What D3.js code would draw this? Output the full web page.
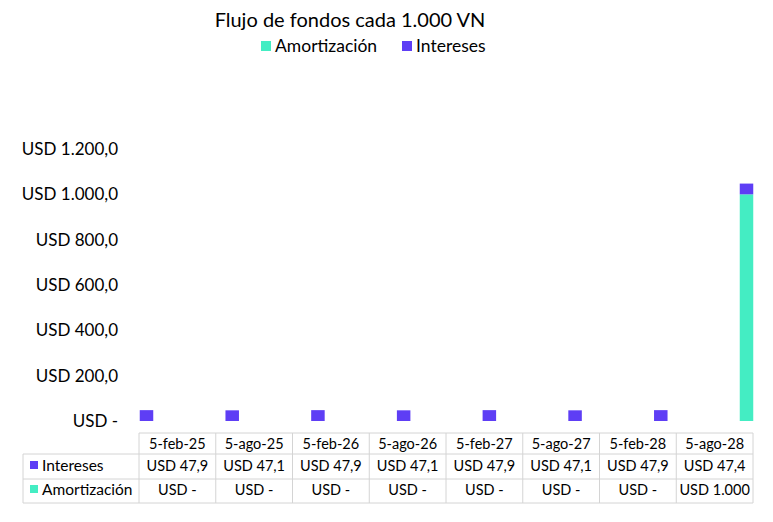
<!DOCTYPE html>
<html><head><meta charset="utf-8">
<script src="https://cdn.jsdelivr.net/npm/d3@7"></script>
<style>body{margin:0;background:#fff}svg{display:block;font-family:Lato,"Open Sans",sans-serif}</style>
</head><body><svg id="c" width="773" height="522"></svg>
<script>
const categories = ["5-feb-25","5-ago-25","5-feb-26","5-ago-26","5-feb-27","5-ago-27","5-feb-28","5-ago-28"];
const intereses = [47.9,47.1,47.9,47.1,47.9,47.1,47.9,47.4];
const amortizacion = [0,0,0,0,0,0,0,1000];
const interesesLabels = ["USD 47,9","USD 47,1","USD 47,9","USD 47,1","USD 47,9","USD 47,1","USD 47,9","USD 47,4"];
const amortLabels = ["USD -","USD -","USD -","USD -","USD -","USD -","USD -","USD 1.000"];
const yTicks = [0,200,400,600,800,1000,1200];
const colors = {amort:"#44EDC3", int:"#5E3EF5"};

const svg = d3.select("#c");
const y = d3.scaleLinear().domain([0,1200]).range([421,149]);
const x = d3.scalePoint().domain(categories).range([146.5,746.5]);
const bw = 13.5;

// title
svg.append("text").attr("x",350).attr("y",27).attr("text-anchor","middle")
  .attr("font-size",20).attr("fill","#000").text("Flujo de fondos cada 1.000 VN");
// legend
const leg = [{n:"Amortización",c:colors.amort,x:261},{n:"Intereses",c:colors.int,x:402}];
leg.forEach(l=>{
  svg.append("rect").attr("x",l.x).attr("y",41).attr("width",10).attr("height",10).attr("fill",l.c);
  svg.append("text").attr("x",l.x+14).attr("y",52).attr("font-size",17.5).attr("fill","#000").text(l.n);
});

// y axis
const fmt = v => v===0 ? "USD -" : "USD " + d3.format(",.1f")(v).replace(/,/g,"#").replace(".",",").replace(/#/g,".");
const yAxis = d3.axisLeft(y).tickValues(yTicks).tickFormat(fmt).tickSize(0).tickPadding(0);
const ga = svg.append("g").attr("transform","translate(118,0)").call(yAxis);
ga.select(".domain").remove();
ga.selectAll("text").attr("font-size",17).attr("font-family","Lato,'Open Sans',sans-serif").attr("fill","#000");

// bars
const g = svg.append("g");
g.selectAll(".am").data(categories).join("rect")
  .attr("x",d=>x(d)-bw/2).attr("width",bw)
  .attr("y",(d,i)=>y(amortizacion[i])).attr("height",(d,i)=>y(0)-y(amortizacion[i]))
  .attr("fill",colors.amort);
g.selectAll(".in").data(categories).join("rect")
  .attr("x",d=>x(d)-bw/2).attr("width",bw)
  .attr("y",(d,i)=>y(amortizacion[i]+intereses[i])).attr("height",(d,i)=>y(amortizacion[i])-y(amortizacion[i]+intereses[i]))
  .attr("fill",colors.int);

// table
const colX = d3.scaleBand().domain(categories).range([139,753]);
const rowY = [433,454,479,503];
const line = "#d4d4d4";
const t = svg.append("g").attr("font-size",14.5).attr("fill","#000");
t.append("line").attr("x1",139).attr("x2",753).attr("y1",rowY[0]).attr("y2",rowY[0]).attr("stroke",line);
[1,2,3].forEach(r=>t.append("line").attr("x1",23).attr("x2",753).attr("y1",rowY[r]).attr("y2",rowY[r]).attr("stroke",line));
t.append("line").attr("x1",23).attr("x2",23).attr("y1",rowY[1]).attr("y2",rowY[3]).attr("stroke",line);
categories.forEach(c=>t.append("line").attr("x1",colX(c)).attr("x2",colX(c)).attr("y1",rowY[0]).attr("y2",rowY[3]).attr("stroke",line));
t.append("line").attr("x1",753).attr("x2",753).attr("y1",rowY[0]).attr("y2",rowY[3]).attr("stroke",line);
categories.forEach(c=>t.append("text").attr("x",colX(c)+colX.bandwidth()/2).attr("y",449).attr("text-anchor","middle").text(c));
const rows = [{n:"Intereses",c:colors.int,vals:interesesLabels,y:471},{n:"Amortización",c:colors.amort,vals:amortLabels,y:495}];
rows.forEach(r=>{
  t.append("rect").attr("x",30).attr("y",r.y-10).attr("width",8).attr("height",8).attr("fill",r.c);
  t.append("text").attr("x",42).attr("y",r.y).attr("font-size",15.5).text(r.n);
  categories.forEach((c,i)=>t.append("text").attr("x",colX(c)+colX.bandwidth()/2).attr("y",r.y).attr("text-anchor","middle").text(r.vals[i]));
});
</script></body></html>
